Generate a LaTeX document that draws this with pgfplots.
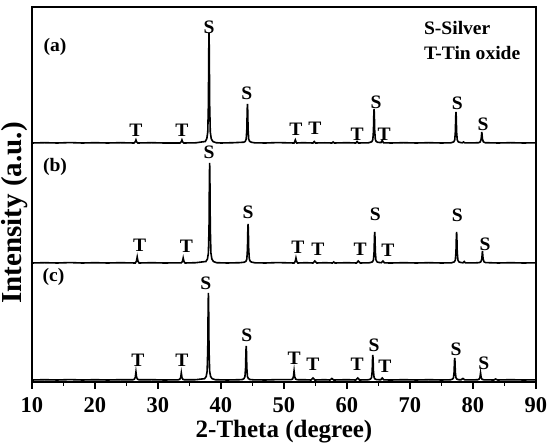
\documentclass[border=0pt]{standalone}
\usepackage{fontspec}
\setmainfont{Liberation Serif}
\newfontfamily\lbl{Liberation Serif}[FakeStretch=1.03]
\usepackage{pgfplots}
\pgfplotsset{compat=1.18}
\tikzset{pl/.style={font=\lbl\fontsize{19}{19}\selectfont\bfseries, inner sep=0pt, anchor=center}}
\begin{document}
\begin{tikzpicture}
\useasboundingbox (0,0) rectangle (550pt,444pt);
\begin{axis}[
  at={(32pt,62pt)}, anchor=south west,
  scale only axis, width=504pt, height=375pt,
  xmin=10, xmax=90, ymin=0, ymax=375,
  xtick={10,20,...,90}, minor x tick num=1,
  ytick=\empty, xtick pos=left, tick align=outside,
  major tick length=7pt, minor tick length=4pt,
  tick style={line width=1.6pt, black},
  axis line style={line width=2pt},
  /pgf/number format/assume math mode=true,
  xticklabel style={font=\fontsize{22.5}{22.5}\selectfont\bfseries, yshift=-5pt},
  every axis x label/.style={at={(rel axis cs:0.5,-0.133)}, anchor=center},
  every axis y label/.style={at={(rel axis cs:-0.034,0.451)}, rotate=90, anchor=center},
  xlabel={\fontsize{25}{25}\selectfont\bfseries 2-Theta (degree)},
  ylabel={\fontsize{29}{29}\selectfont\bfseries Intensity (a.u.)},
  clip=false,
]
% trace (a)
\addplot[black, line width=1.6pt] coordinates {
(10,239) (12,239.3) (14,239) (16,239.4) (18,239) (20,239.3) (22,239) (24,239.3) (26.2,239)
(26.4,240.2) (26.5,242) (26.6,240.2) (26.8,239)
(29,239.3) (31,239) (33.5,239)
(33.7,240.2) (33.8,242) (33.9,240.2) (34.1,239)
(36,239.2) (37.5,240.5) (37.75,243.4) (37.9,250) (38.0,277.5) (38.06,332.5) (38.1,349) (38.14,332.5) (38.2,277.5) (38.3,250) (38.45,243.4) (38.7,240.5) (39.2,239.3)
(40,239) (42,239.3) (43.6,239.8) (43.85,240.6) (44.0,242.9) (44.1,252.7) (44.16,272.2) (44.2,278) (44.24,272.2) (44.3,252.7) (44.4,242.9) (44.55,240.6) (44.8,239.8) (45.3,239.2)
(47,239) (49,239.4) (51.6,239)
(51.7,240.2) (51.8,242) (51.9,240.2) (52.0,239)
(53,239.3) (54.6,239) (54.8,240.5) (55.0,239)
(56.5,239.2) (57.6,239) (57.8,240) (58.0,239) (60,239.3) (61.4,239) (61.6,240.5) (61.8,239) (63.4,239.2)
(63.7,239.7) (63.95,240.4) (64.1,242.4) (64.2,250.9) (64.26,267.9) (64.3,273) (64.34,267.9) (64.4,250.9) (64.5,242.4) (64.65,240.4) (64.9,239.7)
(65.4,239.4) (65.6,241.5) (65.8,239.2)
(67,239) (69,239.3) (71,239) (73,239.3) (75,239) (76.5,239.2)
(76.7,239.6) (76.95,240.2) (77.1,242.1) (77.2,249.9) (77.26,265.4) (77.3,270) (77.34,265.4) (77.4,249.9) (77.5,242.1) (77.65,240.2) (77.9,239.6)
(78.3,239.2) (78.5,240) (78.7,239.1) (80.5,239.2)
(80.9,239.3) (81.15,240.1) (81.3,242.9) (81.4,250) (81.5,242.9) (81.65,240.1) (81.9,239.3)
(84,239) (86,239.3) (88,239) (90,239.2)
};
% trace (b)
\addplot[black, line width=1.6pt] coordinates {
(10,119) (12,119.3) (14,119) (16,119.4) (18,119) (20,119.3) (22,119) (24,119.3) (26.4,119)
(26.58,120.8) (26.7,125) (26.82,120.8) (27.0,119)
(29,119.3) (31,119) (33.7,119.2)
(33.88,120.5) (34.0,124) (34.12,120.5) (34.3,119)
(36,119.3) (37.6,120.5) (37.85,123) (38.0,129) (38.1,154) (38.16,204) (38.2,219) (38.24,204) (38.3,154) (38.4,129) (38.55,123) (38.8,120.5) (39.3,119.3)
(41,119) (43,119.3) (43.7,119.8) (43.95,120.6) (44.1,122.9) (44.2,132.7) (44.26,152.2) (44.3,158) (44.34,152.2) (44.4,132.7) (44.5,122.9) (44.65,120.6) (44.9,119.8) (45.4,119.2)
(47,119) (49,119.4) (51.6,119)
(51.78,120.5) (51.9,124) (52.02,120.5) (52.2,119)
(53.5,119.3) (54.6,119) (54.9,121) (55.2,119)
(56.5,119.3) (57.7,119) (57.9,120) (58.1,119) (60,119.3) (61.5,119) (61.8,121) (62.1,119) (63.5,119.2)
(63.8,119.6) (64.05,120.2) (64.2,122.1) (64.3,129.9) (64.36,145.4) (64.4,150) (64.44,145.4) (64.5,129.9) (64.6,122.1) (64.75,120.2) (65.0,119.6)
(65.45,119.3) (65.7,121) (65.95,119.1)
(67,119) (69,119.3) (71,119) (73,119.3) (75,119) (76.6,119.2)
(76.8,119.6) (77.05,120.2) (77.2,122.1) (77.3,129.9) (77.36,145.4) (77.4,150) (77.44,145.4) (77.5,129.9) (77.6,122.1) (77.75,120.2) (78.0,119.6)
(78.4,119.2) (78.6,120.5) (78.8,119.1) (80.6,119.2)
(81.0,119.4) (81.25,120.2) (81.4,123.2) (81.5,131) (81.6,123.2) (81.75,120.2) (82.0,119.4)
(84,119) (86,119.3) (88,119) (90,119.2)
};
% trace (c)
\addplot[black, line width=1.6pt] coordinates {
(10,2) (12,2.3) (14,2) (16,2.4) (18,2) (20,2.3) (22,2) (24,2.3) (26.0,2.2)
(26.25,2.8) (26.4,4.8) (26.5,10) (26.6,4.8) (26.75,2.8) (27.0,2.2)
(29,2.3) (31,2) (33.2,2.2)
(33.45,2.7) (33.6,4.5) (33.7,9) (33.8,4.5) (33.95,2.7) (34.2,2.2)
(36,2.3) (37.4,3.3) (37.65,5.5) (37.8,10.7) (37.9,32.5) (37.96,76) (38.0,89) (38.04,76) (38.1,32.5) (38.2,10.7) (38.35,5.5) (38.6,3.3) (39.1,2.3)
(41,2) (43,2.3) (43.4,2.5) (43.65,3.4) (43.8,5.4) (43.9,13.9) (43.96,30.9) (44.0,36) (44.04,30.9) (44.1,13.9) (44.2,5.4) (44.35,3.4) (44.6,2.5) (45.1,2.2)
(47,2) (49,2.4) (51.1,2.3)
(51.35,2.9) (51.5,5.2) (51.6,11) (51.7,5.2) (51.85,2.9) (52.1,2.3)
(53.5,2.2) (54.3,2) (54.6,4) (54.9,2)
(56.5,2.3) (57.3,2) (57.6,3.5) (57.9,2) (60,2.3) (61.4,2) (61.7,4) (62.0,2) (63.3,2.2)
(63.5,2.4) (63.75,3) (63.9,4.5) (64.0,10.8) (64.06,23.3) (64.1,27) (64.14,23.3) (64.2,10.8) (64.3,4.5) (64.45,3) (64.7,2.4)
(65.35,2.2) (65.6,4) (65.85,2.1)
(67,2) (69,2.3) (71,2) (73,2.3) (75,2) (76.3,2.2)
(76.5,2.3) (76.75,2.9) (76.9,4.2) (77.0,9.7) (77.06,20.7) (77.1,24) (77.14,20.7) (77.2,9.7) (77.3,4.2) (77.45,2.9) (77.7,2.3)
(78.1,2.2) (78.4,3.5) (78.7,2.1) (80.5,2.2)
(80.7,2.2) (80.95,2.7) (81.1,4.5) (81.2,9) (81.3,4.5) (81.45,2.7) (81.7,2.2)
(83.3,2) (83.6,3) (83.9,2) (86,2.3) (88,2) (90,2.2)
};
% panel letters
\node[pl] at (axis cs:13.65,335) {(a)};
\node[pl] at (axis cs:13.65,215) {(b)};
\node[pl] at (axis cs:13.4,105) {(c)};
% legend text
\node[pl, anchor=west] at (axis cs:72.2,354) {S-Silver};
\node[pl, anchor=west] at (axis cs:72.2,329) {T-Tin oxide};
% labels (a)
\node[pl] at (axis cs:38.1,355) {S};
\node[pl] at (axis cs:44.1,289) {S};
\node[pl] at (axis cs:26.5,252) {T};
\node[pl] at (axis cs:33.8,252) {T};
\node[pl] at (axis cs:51.9,253) {T};
\node[pl] at (axis cs:54.9,254) {T};
\node[pl] at (axis cs:61.6,248) {T};
\node[pl] at (axis cs:64.6,280) {S};
\node[pl] at (axis cs:65.9,248) {T};
\node[pl] at (axis cs:77.5,279) {S};
\node[pl] at (axis cs:81.6,258) {S};
% labels (b)
\node[pl] at (axis cs:38.1,230) {S};
\node[pl] at (axis cs:44.3,170) {S};
\node[pl] at (axis cs:27.1,137) {T};
\node[pl] at (axis cs:34.5,136) {T};
\node[pl] at (axis cs:52.2,135) {T};
\node[pl] at (axis cs:55.4,133) {T};
\node[pl] at (axis cs:62.1,133) {T};
\node[pl] at (axis cs:64.5,168) {S};
\node[pl] at (axis cs:66.5,132) {T};
\node[pl] at (axis cs:77.5,167) {S};
\node[pl] at (axis cs:81.9,138) {S};
% labels (c)
\node[pl] at (axis cs:37.6,99) {S};
\node[pl] at (axis cs:44.1,47) {S};
\node[pl] at (axis cs:26.8,22) {T};
\node[pl] at (axis cs:33.8,22) {T};
\node[pl] at (axis cs:51.6,24) {T};
\node[pl] at (axis cs:54.6,18) {T};
\node[pl] at (axis cs:61.6,18) {T};
\node[pl] at (axis cs:64.3,37) {S};
\node[pl] at (axis cs:66.0,16) {T};
\node[pl] at (axis cs:77.3,33) {S};
\node[pl] at (axis cs:81.7,19) {S};
\end{axis}
\end{tikzpicture}
\end{document}
